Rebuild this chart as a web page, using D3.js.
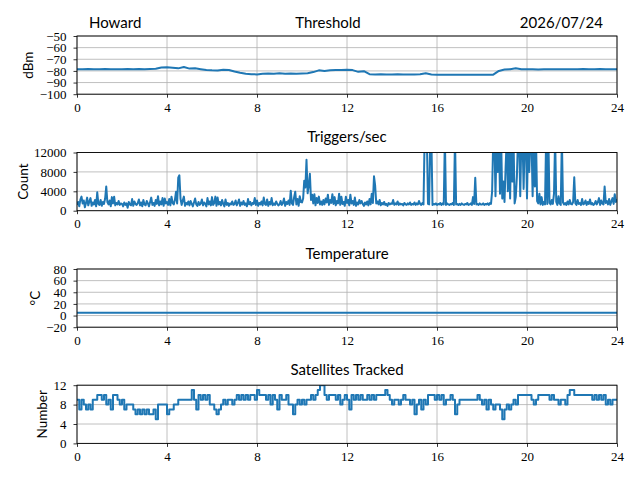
<!DOCTYPE html>
<html><head><meta charset="utf-8">
<script src="https://cdn.jsdelivr.net/npm/d3@7"></script>
<style>body{margin:0;background:#fff} svg{display:block}</style>
</head><body><svg id="c" width="640" height="480"></svg>
<script>
// ---- data ----
const hourTicks = [0,4,8,12,16,20,24];
const thresholdTicks = [-100,-90,-80,-70,-60,-50];
const triggerTicks = [0,4000,8000,12000];
const tempTicks = [-20,0,20,40,60,80];
const satTicks = [0,4,8,12];

// dBm, every 0.25 h
const thresholdDbm = [
-78.5,-78.6,-78.4,-78.5, -78.5,-78.4,-78.6,-78.5, -78.5,-78.3,-78.5,-78.4, -78.5,-78.4,-78.2,-77.0,
-76.8,-77.2,-77.8,-76.6, -78.0,-77.8,-78.5,-79.2, -79.5,-79.6,-79.0,-79.2, -80.5,-81.6,-82.5,-82.8,
-83.0,-82.5,-82.2,-82.4, -82.0,-82.5,-82.2,-82.5, -82.3,-82.0,-81.0,-79.5, -80.0,-79.5,-79.3,-79.2,
-79.0,-79.3,-80.8,-80.2, -82.8,-83.0,-82.9,-83.0, -83.0,-82.9,-83.0,-83.0, -83.0,-82.9,-82.0,-83.0,
-83.2,-83.2,-83.3,-83.2, -83.3,-83.3,-83.2,-83.3, -83.3,-83.3,-83.2,-80.0, -78.8,-78.5,-77.8,-78.6,
-78.6,-78.5,-78.7,-78.6, -78.6,-78.5,-78.6,-78.6, -78.5,-78.6,-78.4,-78.6, -78.5,-78.4,-78.5,-78.5,
-78.6];

// triggers per second, every 0.05 h
const triggerCounts = [
1200,1800,900,2300,2900,1500,2100,700,1600,2700,1100,1900,2600,1000,1700,1300,2200,900,3800,1400,
1200,2200,1000,1800,1400,2500,5000,1800,1300,2100,900,2800,1500,2900,1100,1600,1300,2000,1200,1500,
1400,900,1700,1200,1500,600,1800,1300,1100,2400,1000,1900,1400,1200,1600,2300,1100,1700,900,2200,
1300,1100,2000,1500,900,1800,2700,1200,1600,1000,2200,1400,3000,1100,1900,1300,2600,1000,2500,1500,
1800,1200,2400,1100,2900,1600,1300,2200,3900,1500,6800,7300,2500,1200,2100,2900,1000,1600,1300,1900,
1100,2000,1400,900,1700,2500,1300,1000,1800,1200,1500,2300,1100,1700,1400,900,2600,1300,1900,1100,
2800,1200,1600,2900,1000,2700,1300,1800,1100,2200,1400,900,2300,1200,1600,1000,1500,1300,1900,1200,
1400,2100,1100,1600,2300,1000,1700,1300,2000,1200,1500,900,2400,1300,1800,1100,1600,1400,2600,1200,
2100,1000,1600,1300,1900,1100,2700,1400,1200,2300,1000,1800,1300,2600,1100,1500,1200,1900,1400,1100,
1300,2000,1200,1600,2500,1000,1800,1400,2100,1200,4100,1500,1200,2800,3900,1300,2400,1000,3000,1800,
1700,2500,6200,4800,10500,3600,5200,7600,2200,3300,1500,3400,1100,2600,1600,2900,1300,1900,1200,2200,
1300,2500,1700,3300,1200,2200,1600,3400,1400,2800,1100,2000,1500,3500,1200,2900,1400,1800,1000,2900,
1600,2200,1100,3300,1500,2000,1200,2700,1000,1700,1300,2200,1500,2000,1400,1000,1700,1300,1900,1100,
2400,1300,3500,1600,7100,5200,1500,1900,1300,2200,1100,1600,1300,1800,1200,1400,1000,1600,1300,1500,
1400,2200,1200,1500,1300,1900,1200,1500,1300,1400,1100,1600,1300,1200,1500,1300,1700,1200,1400,1300,
1700,1200,1500,1300,2000,1400,1200,1600,1300,15000,15000,15000,1400,1300,15000,15000,1200,1400,1300,1500,
1200,1400,1300,1600,1200,1500,1300,15000,1200,1500,1300,1200,1400,1300,1600,1200,15000,1300,1400,1200,
1400,1200,1500,1300,1200,1400,1300,1600,1200,1300,1500,1200,2800,1400,6800,1300,1400,1200,1500,1300,
1300,1500,1200,1400,1300,1500,1200,1600,1400,4000,15000,15000,3000,15000,8000,15000,3500,15000,2500,6000,
1800,9000,15000,4000,15000,2500,15000,6000,15000,1500,2800,7000,15000,15000,3000,15000,15000,4500,15000,15000,
2500,15000,8000,15000,15000,3000,15000,5000,15000,2000,1500,3500,1300,2800,1200,1800,1300,15000,1400,15000,
1600,1300,2200,1400,3500,15000,1800,1200,3000,1500,1200,15000,1700,1300,1600,1200,1900,1300,2200,1400,
1300,1800,6900,1500,1200,2200,1400,1600,1200,2400,1300,1500,2100,1200,1800,1400,2300,1300,1600,1200,
1400,2000,1300,1800,2600,1200,2100,1500,1300,5000,1600,2000,1300,2400,1200,1900,2600,1400,3400,1800,
2400];

// degrees C, every hour
const temperatureC = [5,5,5,5,5,5,5,5,5,5,5,5,5,5,5,5,5,5,5,5,5,5,5,5,5];

// satellites, every 0.1 h
const satellitesTracked = [
9,7,9,8,7,8,7,9,9,10,  10,9,10,8,9,7,10,10,9,8,  9,7,8,8,8,7,6,7,6,7,  6,7,6,6,7,5,8,8,8,8,
6,7,7,8,8,9,9,9,9,9,  9,11,9,7,10,9,10,9,10,8,  8,7,6,7,8,9,8,9,9,8,  9,10,9,10,9,10,9,10,10,9,
11,10,10,10,9,10,8,10,9,7,  10,9,9,10,8,8,6,8,9,8,  9,8,9,9,10,9,10,11,12,12,  10,9,10,10,10,9,10,8,9,10,
9,7,10,9,10,9,10,9,9,10,  9,10,9,10,10,10,10,11,10,9,  8,9,9,8,9,10,9,9,8,9,  6,8,9,7,9,8,10,10,10,9,
10,9,10,8,9,9,10,9,6,8,  9,9,9,9,9,9,9,9,10,9,  8,9,7,9,8,7,8,8,7,5,  7,8,7,8,9,8,10,10,10,10,
10,10,9,8,9,10,10,10,10,10,  9,10,9,9,8,9,9,8,10,11,  11,10,10,10,10,10,10,10,10,9,  10,9,10,9,10,8,9,8,9,9,
9];

// ---- drawing ----
const svg = d3.select('#c');
const left = 77, right = 617, ph = 58.2;
const tops = [36, 152.5, 269, 385.2];
const x = d3.scaleLinear().domain([0,24]).range([left,right]);
const serif = '"Liberation Serif", "DejaVu Serif", serif';
const sans = 'Lato, "DejaVu Sans", sans-serif';
const fmt = d => d < 0 ? '\u2212' + Math.abs(d) : String(d);

const panels = [
  {data: thresholdDbm, domain: [-100,-50], ticks: thresholdTicks, label: 'dBm', title: null, curve: d3.curveLinear},
  {data: triggerCounts, domain: [0,12000], ticks: triggerTicks, label: 'Count', title: 'Triggers/sec', curve: d3.curveLinear},
  {data: temperatureC, domain: [-20,80], ticks: tempTicks, label: '\u00B0C', title: 'Temperature', curve: d3.curveLinear},
  {data: satellitesTracked, domain: [0,12], ticks: satTicks, label: 'Number', title: 'Satellites Tracked', curve: d3.curveStepAfter}
];

const defs = svg.append('defs');
panels.forEach((p,k) => {
  const top = tops[k], bot = top + ph;
  const y = d3.scaleLinear().domain(p.domain).range([bot, top]);
  const g = svg.append('g');
  defs.append('clipPath').attr('id','clip'+k).append('rect')
    .attr('x',left).attr('y',top).attr('width',right-left).attr('height',ph);

  // grid
  g.append('g').selectAll('line').data(hourTicks).join('line')
    .attr('x1',d=>x(d)).attr('x2',d=>x(d)).attr('y1',top).attr('y2',bot)
    .attr('stroke','#b0b0b0').attr('stroke-width',0.8);
  g.append('g').selectAll('line').data(p.ticks).join('line')
    .attr('y1',d=>y(d)).attr('y2',d=>y(d)).attr('x1',left).attr('x2',right)
    .attr('stroke','#b0b0b0').attr('stroke-width',0.8);

  // data line
  const n = p.data.length;
  const line = d3.line().curve(p.curve).x((d,i)=>x(i*24/(n-1))).y(d=>y(d));
  g.append('path').datum(p.data).attr('d',line)
    .attr('fill','none').attr('stroke','#1f77b4').attr('stroke-width',2)
    .attr('stroke-linejoin','round').attr('clip-path','url(#clip'+k+')');

  // spines
  g.append('rect').attr('x',left).attr('y',top).attr('width',right-left).attr('height',ph)
    .attr('fill','none').attr('stroke','#000').attr('stroke-width',0.9);

  // axes
  const ax = g.append('g').attr('transform',`translate(0,${bot})`)
    .call(d3.axisBottom(x).tickValues(hourTicks).tickFormat(fmt).tickSize(3.5).tickPadding(5));
  const ay = g.append('g').attr('transform',`translate(${left},0)`)
    .call(d3.axisLeft(y).tickValues(p.ticks).tickFormat(fmt).tickSize(3.5).tickPadding(7));
  [ax, ay].forEach(a => {
    a.select('.domain').remove();
    a.selectAll('.tick line').attr('stroke','#000').attr('stroke-width',0.8);
    a.selectAll('.tick text').attr('fill','#000').style('font-family',serif).style('font-size','13px');
  });

  // y label
  let minX = Infinity;
  ay.selectAll('.tick text').each(function(){ const b=this.getBBox(); const m=this.getCTM(); minX=Math.min(minX, b.x + m.e); });
  const cy = (top+bot)/2;
  svg.append('text').attr('transform',`translate(${minX-6.5},${cy}) rotate(-90)`)
    .attr('text-anchor','middle').style('font-family',sans).style('font-size','13.5px')
    .text(p.label);

  if (p.title) {
    svg.append('text').attr('x',(left+right)/2).attr('y',top-10.2).attr('text-anchor','middle')
      .style('font-family',sans).style('font-size','15px').text(p.title);
  }
});

// top header texts
svg.append('text').attr('x',89).attr('y',28).style('font-family',sans).style('font-size','15px').text('Howard');
svg.append('text').attr('x',328).attr('y',28).attr('text-anchor','middle').style('font-family',sans).style('font-size','15px').text('Threshold');
svg.append('text').attr('x',603).attr('y',28).attr('text-anchor','end').style('font-family',sans).style('font-size','15px').text('2026/07/24');
</script>
</body></html>
